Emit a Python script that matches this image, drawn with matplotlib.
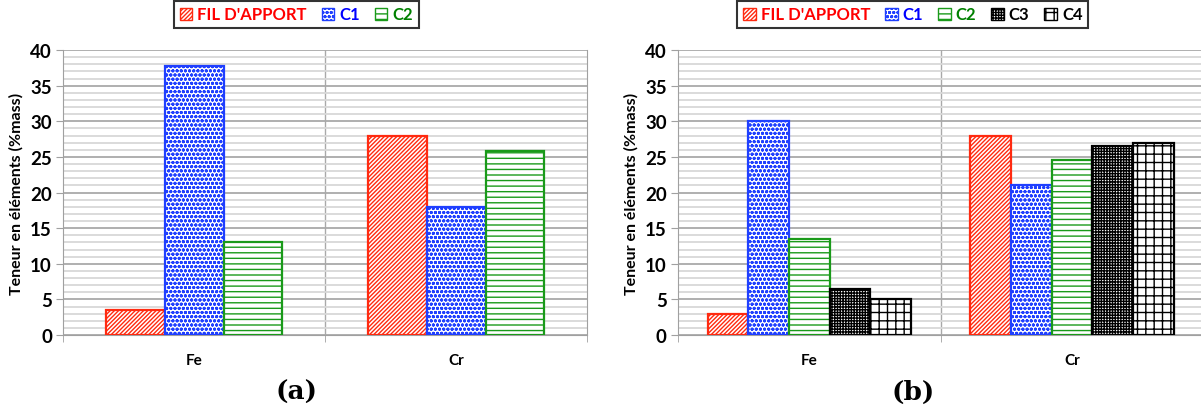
import numpy as np
import matplotlib
matplotlib.use("Agg")
import matplotlib.pyplot as plt
from matplotlib.ticker import MultipleLocator

# Data
elements = ["Fe", "Cr"]
series_a = ["FIL D'APPORT", "C1", "C2"]
values_a = [[3.5, 28.0], [37.8, 18.0], [13.0, 25.8]]
series_b = ["FIL D'APPORT", "C1", "C2", "C3", "C4"]
values_b = [[3.0, 28.0], [30.0, 21.0], [13.5, 24.5], [6.5, 26.5], [5.0, 27.0]]

edge_colors = ["#ff2a10", "#1f3fff", "#1a9a1a", "#000000", "#000000"]
text_colors = ["#ff0000", "#0000ff", "#008000", "#000000", "#000000"]
hatches = ["////////", "oooo", "---", "++++++", "++"]

plt.rcParams["font.family"] = ["Lato", "DejaVu Sans"]
plt.rcParams["font.weight"] = "bold"
plt.rcParams["hatch.linewidth"] = 1.0

fig = plt.figure(figsize=(12.01, 4.10), dpi=100)
ax_a = fig.add_axes([0.0525, 0.1805, 0.4363, 0.695])
ax_b = fig.add_axes([0.5645, 0.1805, 0.4375, 0.695])


def draw_panel(ax, names, vals, bar_w, legend_x):
    n = len(names)
    x = np.arange(len(elements))
    for i, (name, v) in enumerate(zip(names, vals)):
        offs = (i - (n - 1) / 2) * bar_w
        ax.bar(x + offs, v, bar_w, facecolor="white", edgecolor=edge_colors[i],
               hatch=hatches[i], linewidth=1.6, label=name, zorder=3)
    ax.set_xlim(-0.5, 1.5)
    ax.set_ylim(0, 40)
    ax.yaxis.set_major_locator(MultipleLocator(5))
    ax.yaxis.set_minor_locator(MultipleLocator(1))
    ax.grid(which="major", axis="y", color="#a9a9a9", linewidth=1.3, zorder=0)
    ax.grid(which="minor", axis="y", color="#d8d8d8", linewidth=1.3, zorder=0)
    ax.axvline(0.5, color="#a9a9a9", linewidth=1.0, zorder=1)
    ax.set_xticks(x)
    ax.set_xticklabels(elements, fontsize=11, fontweight="bold")
    ax.set_xticks([-0.5, 0.5, 1.5], minor=True)
    ax.tick_params(axis="x", which="major", length=0, pad=13)
    ax.tick_params(axis="x", which="minor", length=5, color="#a0a0a0")
    ax.tick_params(axis="y", which="major", length=5, color="#a0a0a0",
                   labelsize=13.5, pad=3)
    ax.tick_params(axis="y", which="minor", length=0)
    for lab in ax.get_yticklabels():
        lab.set_fontweight("bold")
    ax.spines["top"].set_visible(False)
    for s in ["left", "bottom", "right"]:
        ax.spines[s].set_color("#a0a0a0")
    ax.set_ylabel("Teneur en éléments (%mass)", fontsize=11.5, fontweight="bold",
                  labelpad=5)
    leg = ax.legend(loc="center", bbox_to_anchor=(legend_x, 1.125), ncol=n,
                    frameon=True, fancybox=False, edgecolor="black",
                    handlelength=0.75, handleheight=0.75, handletextpad=0.3,
                    columnspacing=0.9, borderpad=0.35,
                    labelcolor=text_colors[:n],
                    prop={"weight": "bold", "size": 12})
    leg.get_frame().set_linewidth(1.5)
    for h in leg.legend_handles:
        h.set_linewidth(1.0)


draw_panel(ax_a, series_a, values_a, 0.225, 0.445)
draw_panel(ax_b, series_b, values_b, 0.155, 0.447)
ax_b.spines["right"].set_visible(False)

fig.text(0.247, 0.043, "(a)", ha="center", va="center", fontsize=19,
         fontweight="bold", family="DejaVu Serif")
fig.text(0.76, 0.043, "(b)", ha="center", va="center", fontsize=19,
         fontweight="bold", family="DejaVu Serif")

fig.savefig("out.png", dpi=100)
